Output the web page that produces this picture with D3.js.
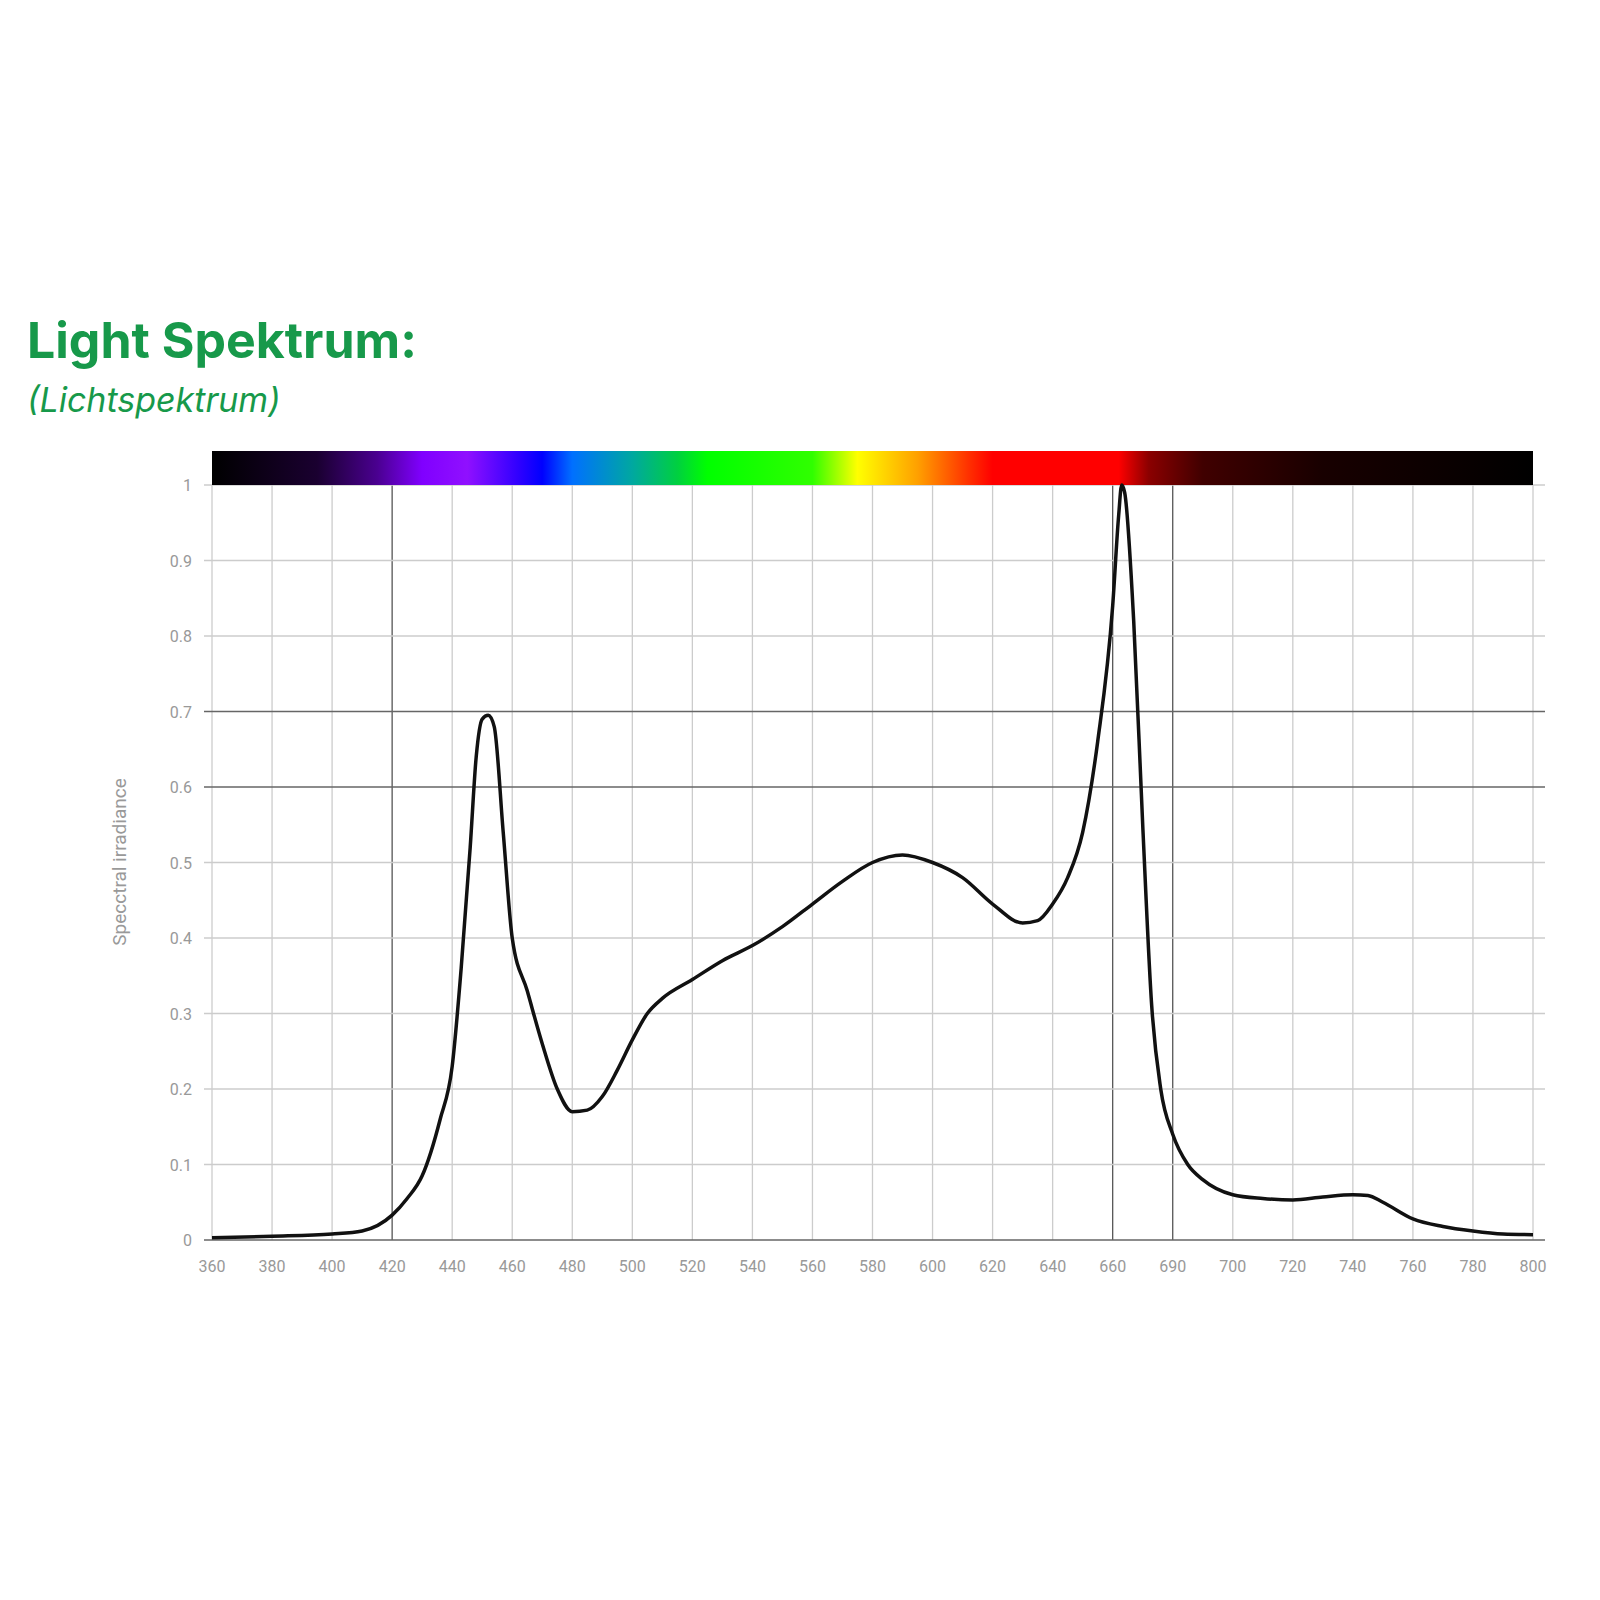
<!DOCTYPE html>
<html>
<head>
<meta charset="utf-8">
<script src="https://cdn.jsdelivr.net/npm/d3@7"></script>
<style>html,body{margin:0;background:#fff;overflow:hidden;} svg{display:block;}</style>
</head>
<body>
<div id="chart"></div>
<script>
// wavelength (nm) and relative irradiance
const wavelengths = [360,380,400,410,420,425,430,436,440,443,446,448,450,452,454,457,460,465,470,475,480,485,490,495,500,505,510,520,530,540,550,560,570,580,590,600,610,620,630,635,640,645,650,655,660,662,663,664,667,670,673,676,680,685,690,700,710,720,730,740,745,750,760,770,780,790,800];
const irradiance  = [0.003,0.005,0.008,0.012,0.033,0.055,0.085,0.16,0.23,0.36,0.52,0.64,0.69,0.695,0.68,0.54,0.40,0.33,0.26,0.2,0.17,0.172,0.19,0.225,0.265,0.30,0.32,0.345,0.37,0.39,0.415,0.445,0.475,0.5,0.51,0.5,0.48,0.445,0.42,0.423,0.445,0.48,0.54,0.66,0.84,0.96,1.0,0.99,0.82,0.55,0.31,0.2,0.14,0.10,0.08,0.06,0.055,0.053,0.057,0.06,0.059,0.05,0.028,0.018,0.012,0.008,0.007];
const xTicks = [360,380,400,420,440,460,480,500,520,540,560,580,600,620,640,660,680,700,720,740,760,780,800];
const xTickLabels = ["360","380","400","420","440","460","480","500","520","540","560","580","600","620","640","660","690","700","720","740","760","780","800"];
const yTicks = [0,0.1,0.2,0.3,0.4,0.5,0.6,0.7,0.8,0.9,1];
const yTickLabels = ["0","0.1","0.2","0.3","0.4","0.5","0.6","0.7","0.8","0.9","1"];
const darkX = [420,660,680];
const darkY = [0,0.6,0.7];
// colour bar stops
const barStops = [[360,"#000000"],[395,"#1a0030"],[415,"#4a0090"],[430,"#8000ff"],[445,"#9010ff"],[462,"#3000ff"],[470,"#0000ff"],[480,"#0070ff"],[500,"#00a8a0"],[515,"#00d040"],[525,"#00ff00"],[560,"#30ff00"],[575,"#ffff00"],[595,"#ffa000"],[612,"#ff3000"],[620,"#ff0000"],[662,"#ff0000"],[672,"#8b0000"],[690,"#400000"],[730,"#180000"],[800,"#000000"]];

const svg = d3.select("#chart").append("svg").attr("width",1600).attr("height",1600);

const x = d3.scaleLinear().domain([360,800]).range([212,1533]);
const y = d3.scaleLinear().domain([0,1]).range([1240,485]);

svg.append("text").attr("x",27).attr("y",358).attr("fill","#17994a")
  .style("font-family","Inter, 'Open Sans', sans-serif").style("font-weight","700").style("font-size","50px")
  .text("Light Spektrum:");
svg.append("text").attr("x",27).attr("y",412).attr("fill","#17994a")
  .style("font-family","Inter, 'Open Sans', sans-serif").style("font-style","italic").style("font-size","34px")
  .text("(Lichtspektrum)");

// grid
svg.append("g").selectAll("line").data(xTicks).join("line")
  .attr("x1",d=>x(d)).attr("x2",d=>x(d)).attr("y1",y(1)).attr("y2",y(0))
  .attr("stroke",d=>darkX.includes(d)?"#555":"#ccc").attr("stroke-width",1.3);
svg.append("g").selectAll("line").data(yTicks).join("line")
  .attr("x1",x(360)-8).attr("x2",1545).attr("y1",d=>y(d)).attr("y2",d=>y(d))
  .attr("stroke",d=>darkY.includes(d)?"#666":"#ccc").attr("stroke-width",1.3);

// tick labels
svg.append("g").selectAll("text").data(xTicks).join("text")
  .attr("x",d=>x(d)).attr("y",1272).attr("text-anchor","middle").attr("fill","#999")
  .style("font-family","Roboto, sans-serif").style("font-size","16px")
  .text((d,i)=>xTickLabels[i]);
svg.append("g").selectAll("text").data(yTicks).join("text")
  .attr("x",192).attr("y",d=>y(d)+6).attr("text-anchor","end").attr("fill","#999")
  .style("font-family","Roboto, sans-serif").style("font-size","16px")
  .text((d,i)=>yTickLabels[i]);
svg.append("text").attr("transform","translate(126,862) rotate(-90)").attr("text-anchor","middle")
  .attr("fill","#999").style("font-family","Roboto, sans-serif").style("font-size","19px")
  .text("Specctral irradiance");

// spectrum bar
const grad = svg.append("defs").append("linearGradient").attr("id","spec")
  .attr("x1","0%").attr("x2","100%");
grad.selectAll("stop").data(barStops).join("stop")
  .attr("offset",d=>((d[0]-360)/440*100)+"%").attr("stop-color",d=>d[1]);
svg.append("rect").attr("x",x(360)).attr("y",451).attr("width",x(800)-x(360)).attr("height",y(1)-451)
  .attr("fill","url(#spec)");

// curve
const line = d3.line().x((d,i)=>x(wavelengths[i])).y(d=>y(d)).curve(d3.curveMonotoneX);
svg.append("path").datum(irradiance).attr("d",line).attr("fill","none")
  .attr("stroke","#111").attr("stroke-width",3.5);
</script>
</body>
</html>
